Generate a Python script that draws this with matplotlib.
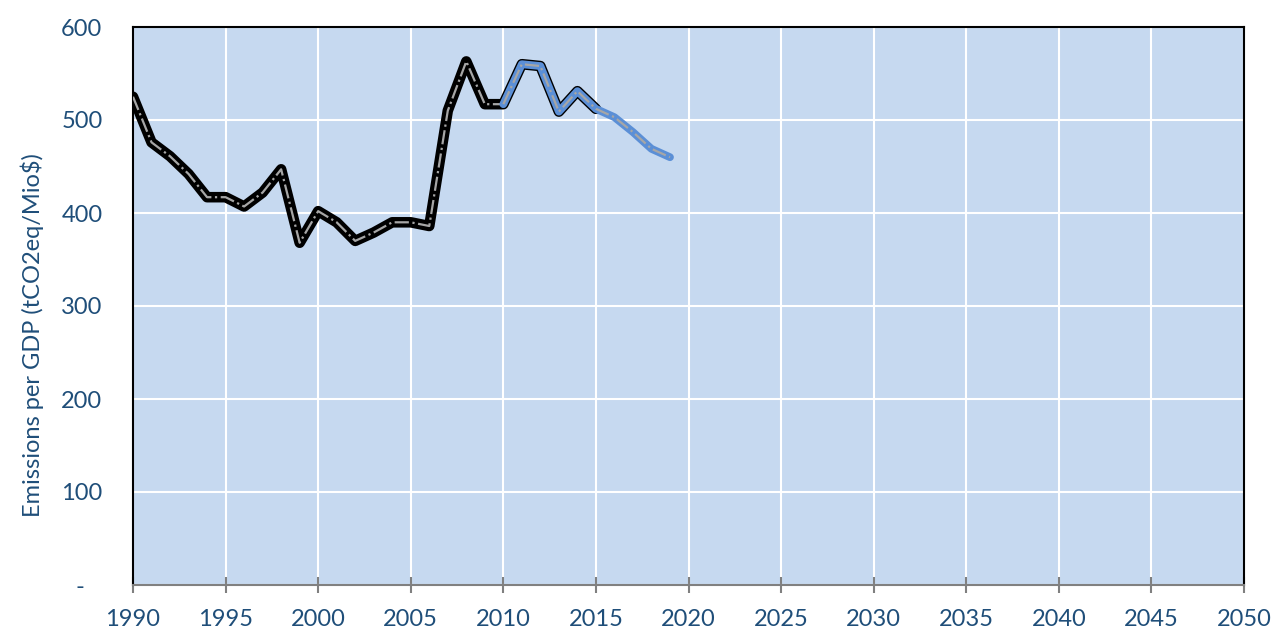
import matplotlib
matplotlib.use("Agg")
import matplotlib.pyplot as plt

years_hist = list(range(1990, 2016))
vals_hist = [525, 476, 461, 442, 417, 417, 407, 422, 447, 368,
             402, 390, 370, 379, 390, 390, 386, 510, 563, 517,
             517, 560, 558, 509, 531, 512]
years_proj = list(range(2010, 2020))
vals_proj = [517, 560, 558, 509, 531, 512, 503, 487, 469, 460]

x_ticks = list(range(1990, 2051, 5))
y_ticks = [0, 100, 200, 300, 400, 500, 600]
y_labels = ["-   ", "100", "200", "300", "400", "500", "600"]
y_title = "Emissions per GDP (tCO2eq/Mio$)"

txt = "#1F4E79"
plt.rcParams['font.family'] = ['Lato', 'DejaVu Sans']

fig = plt.figure(figsize=(12.72, 6.31), dpi=100)
ax = fig.add_axes([133/1272, 1-585/631, (1244-133)/1272, (585-27)/631])
ax.set_facecolor("#C6D9F0")

ax.plot(years_hist, vals_hist, color="black", lw=7.6, solid_joinstyle="round",
        solid_capstyle="round", zorder=3)
ax.plot(years_hist[:21], vals_hist[:21], color="#A6A6A6", lw=1.6, ls="-.", zorder=4)
ax.plot(years_proj, vals_proj, color="#5B8FD6", lw=5.6, solid_joinstyle="round",
        solid_capstyle="round", zorder=5)
ax.plot(years_proj, vals_proj, color="#A6A6A6", lw=1.6, ls="-.", zorder=6)

ax.set_xlim(1990, 2050)
ax.set_ylim(0, 600)
ax.set_xticks(x_ticks)
ax.set_xticklabels([str(t) for t in x_ticks])
ax.set_yticks(y_ticks)
ax.set_yticklabels(y_labels)
ax.grid(True, color="white", lw=1.5, zorder=1)
ax.set_axisbelow(True)

for s in ["left", "top", "right"]:
    ax.spines[s].set_color("black")
    ax.spines[s].set_linewidth(1.5)
ax.spines["bottom"].set_color("#808080")
ax.spines["bottom"].set_linewidth(1.5)

ax.tick_params(axis="x", direction="inout", length=11, width=1.5, color="#808080",
               labelsize=17, labelcolor=txt, pad=12)
ax.tick_params(axis="y", length=0, labelsize=17, labelcolor=txt, pad=22)

fig.text(32/1272, 1-335/631, y_title, rotation=90, ha="center", va="center",
         fontsize=17, color=txt)

fig.savefig("out.png", dpi=100)
